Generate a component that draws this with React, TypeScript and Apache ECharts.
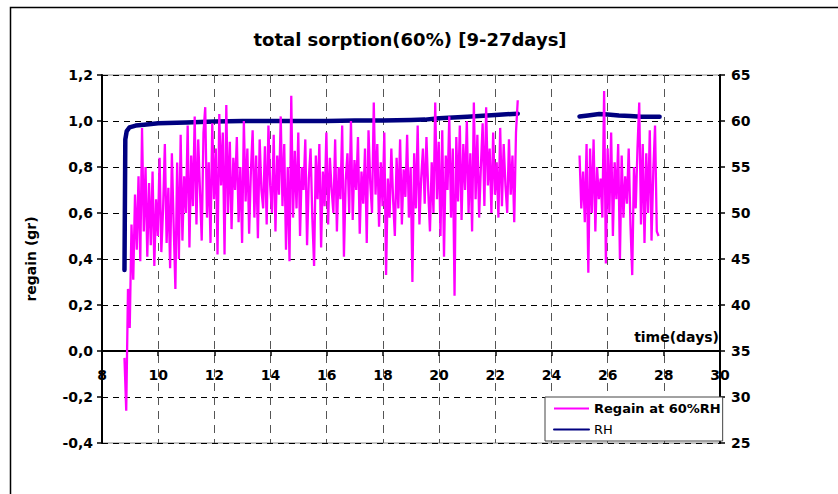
import React, { useEffect, useRef } from "react";
import * as echarts from "echarts";

// ---- data ----
const xTicks = { min: 8, max: 30, step: 2 };
const regainTicks = { min: -0.4, max: 1.2, step: 0.2 };
const rhTicks = { min: 25, max: 65, step: 5 };

const sampleStep = 0.0625; // days between regain samples
const regainSeg1Start = 8.8;
const regainSeg1 = [
  -0.03, -0.26, 0.27, 0.10, 0.55, 0.31, 0.68, 0.44, 0.76, 0.39, 0.97, 0.52, 0.80, 0.41, 0.73, 0.46,
  0.78, 0.37, 0.66, 0.50, 0.84, 0.43, 0.62, 0.90, 0.47, 0.71, 0.36, 0.86, 0.55, 0.27, 0.82, 0.40,
  0.94, 0.48, 0.76, 0.60, 0.98, 0.45, 0.85, 0.63, 1.02, 0.55, 0.92, 0.70, 0.48, 0.95, 1.06, 0.58,
  0.82, 0.47, 0.99, 0.66, 0.88, 0.42, 1.03, 0.72, 0.95, 0.42, 1.07, 0.60, 0.91, 0.53, 0.84, 0.70,
  0.93, 0.56, 0.80, 0.47, 1.00, 0.65, 0.88, 0.51, 0.78, 0.96, 0.58, 0.85, 0.49, 0.92, 0.70, 0.62,
  0.89, 0.55, 0.98, 0.72, 0.60, 0.94, 0.52, 0.85, 0.68, 1.02, 0.63, 0.90, 0.44, 0.80, 0.39, 1.11,
  0.58, 0.87, 0.62, 0.95, 0.50, 0.80, 0.70, 0.92, 0.46, 0.75, 0.88, 0.58, 0.37, 0.85, 0.66, 0.90,
  0.45, 0.78, 0.63, 0.95, 0.55, 0.84, 0.70, 0.60, 0.92, 0.52, 0.80, 0.66, 0.98, 0.41, 0.74, 0.86,
  0.60, 1.00, 0.57, 0.83, 0.70, 0.93, 0.51, 0.78, 0.64, 0.88, 0.47, 0.96, 0.73, 0.60, 1.08, 0.68,
  0.90, 0.54, 0.82, 0.63, 0.95, 0.33, 0.75, 0.58, 0.88, 0.66, 0.50, 0.84, 0.62, 0.92, 0.55, 0.79,
  0.67, 0.94, 0.58, 0.80, 0.30, 0.86, 0.62, 0.98, 0.55, 0.75, 0.88, 0.64, 0.93, 0.70, 0.52, 0.82,
  0.60, 1.08, 0.66, 0.91, 0.50, 0.96, 0.41, 0.85, 0.70, 1.02, 0.58, 0.88, 0.24, 0.93, 0.65, 0.98,
  0.57, 0.90, 0.70, 1.00, 0.60, 0.86, 0.52, 1.08, 0.66, 0.94, 0.58, 0.80, 0.99, 0.63, 1.06, 0.72,
  0.88, 0.60, 0.95, 0.68, 0.82, 0.58, 0.97, 0.63, 0.90, 0.72, 0.60, 0.92, 0.68, 0.85, 0.56, 0.95,
  1.09,
];
const regainSeg2Start = 25.0;
const regainSeg2 = [
  0.85, 0.62, 0.78, 0.56, 0.90, 0.34, 0.88, 0.60, 0.92, 0.52, 0.80, 0.66, 0.75, 0.58, 1.13, 0.38,
  0.88, 0.60, 0.95, 0.50, 0.82, 0.66, 0.90, 0.40, 0.85, 0.58, 0.76, 0.64, 0.88, 0.55, 0.33, 0.80,
  0.62, 0.88, 1.08, 0.55, 0.90, 0.47, 0.86, 0.60, 0.96, 0.48, 0.78, 0.98, 0.52, 0.50,
];
const gapTime = 23.9;

const rhSeg1Times = [8.8, 8.83, 8.88, 8.98, 9.2, 9.5, 10, 11, 12, 13, 14, 15, 16, 17, 18, 19, 19.5, 20, 21, 22, 22.8];
const rhSeg1Values = [43.8, 58.0, 58.9, 59.3, 59.5, 59.6, 59.75, 59.85, 59.95, 60.0, 60.0, 60.0, 60.0, 60.05, 60.05, 60.1, 60.15, 60.3, 60.45, 60.65, 60.8];
const rhSeg2Times = [25.0, 25.3, 25.7, 26.0, 26.4, 26.8, 27.2, 27.5, 27.85];
const rhSeg2Values = [60.5, 60.6, 60.75, 60.7, 60.6, 60.55, 60.45, 60.45, 60.45];

const seriesNames = ["Regain at 60%RH", "RH"];
const titleText = "total sorption(60%) [9-27days]";
const yName = "regain (gr)";
const xName = "time(days)";

const FONT = '"DejaVu Sans", sans-serif';

function buildRegain() {
  const d: any[] = [];
  regainSeg1.forEach((v, i) => d.push([regainSeg1Start + i * sampleStep, v]));
  d.push([gapTime, "-"]);
  regainSeg2.forEach((v, i) => d.push([regainSeg2Start + i * sampleStep, v]));
  return d;
}
function buildRH() {
  const d: any[] = [];
  rhSeg1Times.forEach((t, i) => d.push([t, rhSeg1Values[i]]));
  d.push([gapTime, "-"]);
  rhSeg2Times.forEach((t, i) => d.push([t, rhSeg2Values[i]]));
  return d;
}

const fmtComma = (v: number) => {
  if (Math.abs(v) < 1e-9) return "0,0";
  return v.toFixed(1).replace(".", ",");
};

export default function App() {
  const ref = useRef<HTMLDivElement>(null);
  useEffect(() => {
    document.body.style.margin = "0";
    const chart = echarts.init(ref.current!, null, { renderer: "svg" });
    const labelStyle = { color: "#000", fontFamily: FONT, fontWeight: "bold" as const, fontSize: 14 };
    const gridTop = 75;
    const gridBottom = 51;
    const plotH = 494 - gridTop - gridBottom;
    const zeroOffset = -plotH * ((0 - regainTicks.min) / (regainTicks.max - regainTicks.min));
    chart.setOption({
      animation: false,
      backgroundColor: "#fff",
      grid: {
        left: 102,
        right: 118,
        top: gridTop,
        bottom: gridBottom,
        show: true,
        borderColor: "#888",
        borderWidth: 1,
      },
      legend: {
        orient: "vertical",
        left: 545,
        top: 397,
        padding: [5, 2, 5, 8],
        itemWidth: 35,
        itemHeight: 14,
        itemGap: 8,
        backgroundColor: "#fff",
        borderColor: "#444",
        borderWidth: 1,
        borderRadius: 0,
        itemStyle: { opacity: 0 },
        textStyle: { color: "#000", fontFamily: FONT, fontSize: 13 },
        data: [
          { name: seriesNames[0], textStyle: { fontWeight: "bold" } },
          { name: seriesNames[1], textStyle: { fontWeight: "normal" } },
        ],
      },
      xAxis: {
        type: "value",
        position: "bottom",
        offset: zeroOffset,
        min: xTicks.min,
        max: xTicks.max,
        interval: xTicks.step,
        axisLine: { show: true, onZero: false, lineStyle: { color: "#000", width: 2 } },
        axisTick: { show: true, length: 5, lineStyle: { color: "#000", width: 1.5 } },
        axisLabel: { ...labelStyle, margin: 17 },
        splitLine: { show: true, lineStyle: { color: "#555", type: [8, 6], width: 1 } },
      },
      yAxis: [
        {
          type: "value",
          position: "left",
          min: regainTicks.min,
          max: regainTicks.max,
          interval: regainTicks.step,
          axisLine: { show: true, onZero: false, lineStyle: { color: "#000", width: 2 } },
          axisTick: { show: true, length: 5, lineStyle: { color: "#000", width: 1.5 } },
          axisLabel: { ...labelStyle, margin: 9, formatter: fmtComma },
          splitLine: { show: true, lineStyle: { color: "#000", type: [6, 5], width: 1 } },
          name: yName,
          nameLocation: "middle",
          nameGap: 64,
          nameRotate: 90,
          nameTextStyle: { color: "#000", fontFamily: FONT, fontWeight: "bold", fontSize: 14 },
        },
        {
          type: "value",
          position: "right",
          min: rhTicks.min,
          max: rhTicks.max,
          interval: rhTicks.step,
          axisLine: { show: true, onZero: false, lineStyle: { color: "#000", width: 2 } },
          axisTick: { show: true, length: 5, lineStyle: { color: "#000", width: 1.5 } },
          axisLabel: { ...labelStyle, margin: 11 },
          splitLine: { show: false },
        },
      ],
      series: [
        {
          name: seriesNames[1],
          type: "line",
          yAxisIndex: 1,
          data: buildRH(),
          symbol: "none",
          showSymbol: false,
          connectNulls: false,
          z: 2,
          lineStyle: { color: "#000080", width: 4.5, join: "round", cap: "round" },
          itemStyle: { color: "#000080" },
        },
        {
          name: seriesNames[0],
          type: "line",
          yAxisIndex: 0,
          data: buildRegain(),
          symbol: "none",
          showSymbol: false,
          connectNulls: false,
          z: 3,
          lineStyle: { color: "#ff00ff", width: 2.3 },
          itemStyle: { color: "#ff00ff" },
        },
      ],
      graphic: [
        {
          type: "rect",
          shape: { x: 10.5, y: 7.5, width: 840, height: 500 },
          style: { fill: "none", stroke: "#000", lineWidth: 1.5 },
          silent: true,
          z: 0,
        },
        {
          type: "text",
          x: 410,
          y: 39,
          style: {
            text: titleText,
            fill: "#000",
            fontFamily: FONT,
            fontWeight: "bold",
            fontSize: 18,
            align: "center",
            verticalAlign: "middle",
          },
        },
        {
          type: "text",
          x: 719,
          y: 337,
          z: 10,
          style: {
            text: xName,
            fill: "#000",
            fontFamily: FONT,
            fontWeight: "bold",
            fontSize: 14,
            align: "right",
            verticalAlign: "middle",
          },
        },
      ],
    });
    return () => chart.dispose();
  }, []);
  return <div ref={ref} style={{ width: 838, height: 494 }} />;
}
